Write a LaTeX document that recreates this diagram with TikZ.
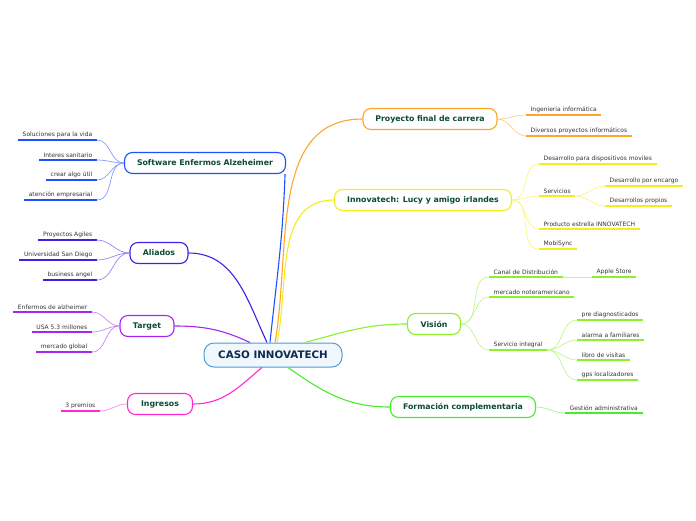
\documentclass[tikz,border=0pt]{standalone}
\usepackage{fontspec}
\setmainfont{DejaVu Sans}
\definecolor{rootline}{HTML}{4A9ED8}
\definecolor{rootfill}{HTML}{F0F7FD}
\definecolor{rootink}{HTML}{0E2A4E}
\definecolor{topicink}{HTML}{0B4A34}
\definecolor{leafink}{HTML}{333333}
\definecolor{cSw}{HTML}{1E50FF}
\definecolor{cAli}{HTML}{3F20E8}
\definecolor{cTgt}{HTML}{A526F0}
\definecolor{cIng}{HTML}{FF28D2}
\definecolor{cPfc}{HTML}{FFA52A}
\definecolor{cInn}{HTML}{F2EE1E}
\definecolor{cVis}{HTML}{8CF02A}
\definecolor{cFrm}{HTML}{45EE28}
\tikzset{
  root/.style={draw=rootline, fill=rootfill, line width=1pt, rounded corners=10pt,
    minimum height=24pt, font=\bfseries\fontsize{10.3}{12}\selectfont, text=rootink},
  topic/.style={draw=#1, fill=white, line width=1.1pt, rounded corners=8pt,
    minimum height=21pt, font=\bfseries\fontsize{7.8}{9}\selectfont, text=topicink},
  leaf/.style={font=\fontsize{6}{7}\selectfont, text=leafink, inner xsep=4.5pt, inner ysep=2.5pt,
    append after command={(\tikzlastnode.south west) edge[draw=#1, line width=1.6pt] (\tikzlastnode.south east)}},
  branch/.style={draw=#1, line width=1.1pt},
  twig/.style={draw=#1!55, line width=0.7pt},
}
\begin{document}
\begin{tikzpicture}[x=1pt, y=-1pt]
  \useasboundingbox (0,0) rectangle (696,520);

  % centro
  \node[root, minimum width=138pt] (root) at (273,355) {CASO INNOVATECH};

  % ramas principales
  \node[topic=cSw, minimum width=161pt] (sw) at (205,163) {Software Enfermos Alzeheimer};
  \node[topic=cAli, minimum width=58pt] (ali) at (159,253) {Aliados};
  \node[topic=cTgt, minimum width=54pt] (tgt) at (147,326) {Target};
  \node[topic=cIng, minimum width=65pt] (ing) at (160,404) {Ingresos};
  \node[topic=cPfc, minimum width=134pt] (pfc) at (430,119) {Proyecto final de carrera};
  \node[topic=cInn, minimum width=177pt] (inn) at (423,200) {Innovatech: Lucy y amigo irlandes};
  \node[topic=cVis, minimum width=53pt] (vis) at (434,324) {Visión};
  \node[topic=cFrm, minimum width=145pt] (frm) at (463,407) {Formación complementaria};

  \draw[branch=cSw] ([xshift=-3pt]root.north) to[out=84,in=-92] ([xshift=-1pt]sw.south east);
  \draw[branch=cAli] (ali.east) to[out=0,in=115] ([xshift=-6pt]root.north);
  \draw[branch=cTgt] (tgt.east) to[out=0,in=155] ([xshift=-23pt]root.north);
  \draw[branch=cIng] (ing.east) to[out=0,in=220] ([xshift=-11pt]root.south);
  \draw[branch=cPfc] ([xshift=2pt]root.north) to[out=80,in=180] (pfc.west);
  \draw[branch=cInn] ([xshift=4pt]root.north) to[out=78,in=180] (inn.west);
  \draw[branch=cVis] ([xshift=32pt]root.north) to[out=15,in=180] (vis.west);
  \draw[branch=cFrm] ([xshift=15pt]root.south) to[out=-35,in=180] (frm.west);

  % Software
  \node[leaf=cSw, anchor=south east] (sw1) at (97,140) {Soluciones para la vida};
  \node[leaf=cSw, anchor=south east] (sw2) at (97,160) {Interes sanitario};
  \node[leaf=cSw, anchor=south east] (sw3) at (97,180) {crear algo útil};
  \node[leaf=cSw, anchor=south east] (sw4) at (97,200) {atención empresarial};
  \foreach \n in {sw1,sw2,sw3,sw4}
    \draw[twig=cSw] (sw.west) to[out=180,in=0] (\n.south east);

  % Aliados
  \node[leaf=cAli, anchor=south east] (ali1) at (97,240) {Proyectos Agiles};
  \node[leaf=cAli, anchor=south east] (ali2) at (97,260) {Universidad San Diego};
  \node[leaf=cAli, anchor=south east] (ali3) at (97,280) {business angel};
  \foreach \n in {ali1,ali2,ali3}
    \draw[twig=cAli] (ali.west) to[out=180,in=0] (\n.south east);

  % Target
  \node[leaf=cTgt, anchor=south east] (tgt1) at (92,312) {Enfermos de alzheimer};
  \node[leaf=cTgt, anchor=south east] (tgt2) at (92,332) {USA 5.3 millones};
  \node[leaf=cTgt, anchor=south east] (tgt3) at (92,352) {mercado global};
  \foreach \n in {tgt1,tgt2,tgt3}
    \draw[twig=cTgt] (tgt.west) to[out=180,in=0] (\n.south east);

  % Ingresos
  \node[leaf=cIng, anchor=south east] (ing1) at (100,411) {3 premios};
  \draw[twig=cIng] (ing.west) to[out=180,in=0] (ing1.south east);

  % Proyecto final
  \node[leaf=cPfc, anchor=south west] (pfc1) at (526,115) {Ingenieria informática};
  \node[leaf=cPfc, anchor=south west] (pfc2) at (526,136) {Diversos proyectos informáticos};
  \foreach \n in {pfc1,pfc2}
    \draw[twig=cPfc] (pfc.east) to[out=0,in=180] (\n.south west);

  % Innovatech
  \node[leaf=cInn, anchor=south west] (inn1) at (539,164) {Desarrollo para dispositivos moviles};
  \node[leaf=cInn, anchor=south west] (inn2) at (539,196) {Servicios};
  \node[leaf=cInn, anchor=south west] (inn3) at (539,229) {Producto estrella INNOVATECH};
  \node[leaf=cInn, anchor=south west] (inn4) at (539,249) {MobiSync};
  \foreach \n in {inn1,inn2,inn3,inn4}
    \draw[twig=cInn] (inn.east) to[out=0,in=180] (\n.south west);
  \node[leaf=cInn, anchor=south west] (inn2a) at (605,186) {Desarrollo por encargo};
  \node[leaf=cInn, anchor=south west] (inn2b) at (605,206) {Desarrollos propios};
  \foreach \n in {inn2a,inn2b}
    \draw[twig=cInn] (inn2.south east) to[out=0,in=180] (\n.south west);

  % Vision
  \node[leaf=cVis, anchor=south west] (vis1) at (489,277) {Canal de Distribución};
  \node[leaf=cVis, anchor=south west] (vis2) at (489,297) {mercado noteramericano};
  \node[leaf=cVis, anchor=south west] (vis3) at (489,350) {Servicio integral};
  \foreach \n in {vis1,vis2,vis3}
    \draw[twig=cVis] (vis.east) to[out=0,in=180] (\n.south west);
  \node[leaf=cVis, anchor=south west] (vis1a) at (592,277) {Apple Store};
  \draw[twig=cVis] (vis1.south east) -- (vis1a.south west);
  \node[leaf=cVis, anchor=south west] (vis3a) at (577,320) {pre diagnosticados};
  \node[leaf=cVis, anchor=south west] (vis3b) at (577,340) {alarma a familiares};
  \node[leaf=cVis, anchor=south west] (vis3c) at (577,360) {libro de visitas};
  \node[leaf=cVis, anchor=south west] (vis3d) at (577,380) {gps localizadores};
  \foreach \n in {vis3a,vis3b,vis3c,vis3d}
    \draw[twig=cVis] (vis3.south east) to[out=0,in=180] (\n.south west);

  % Formacion
  \node[leaf=cFrm, anchor=south west] (frm1) at (565,413) {Gestión administrativa};
  \draw[twig=cFrm] (frm.east) to[out=0,in=180] (frm1.south west);
\end{tikzpicture}
\end{document}
